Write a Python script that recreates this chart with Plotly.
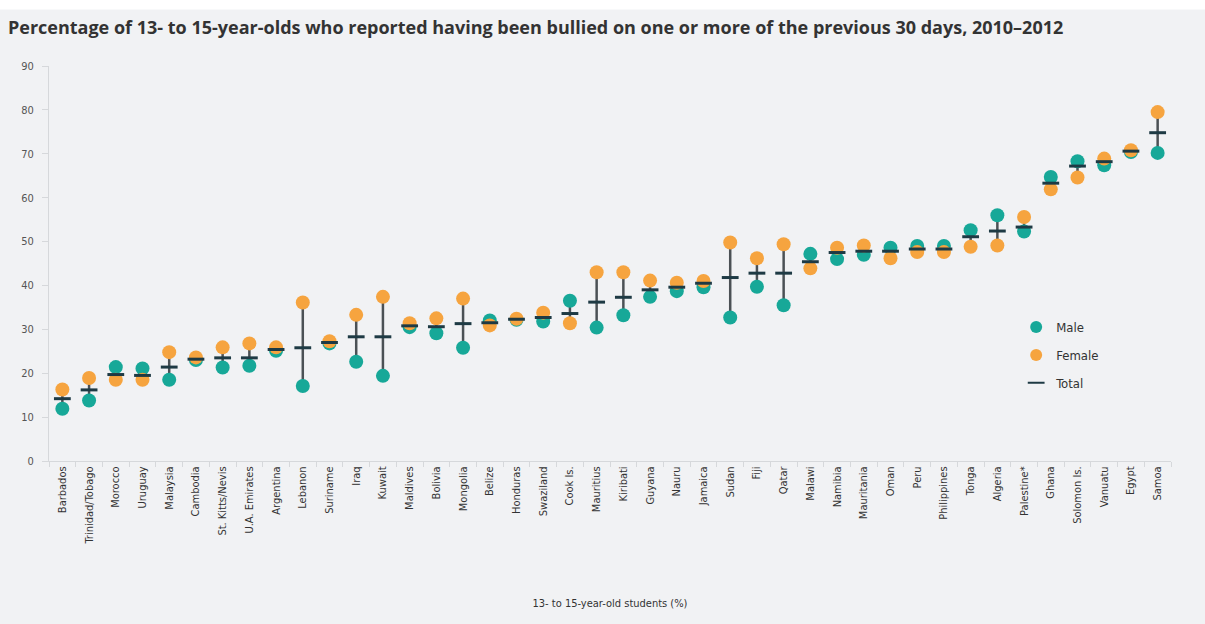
import plotly.graph_objects as go

countries = ["Barbados", "Trinidad/Tobago", "Morocco", "Uruguay", "Malaysia", "Cambodia",
             "St. Kitts/Nevis", "U.A. Emirates", "Argentina", "Lebanon", "Suriname", "Iraq",
             "Kuwait", "Maldives", "Bolivia", "Mongolia", "Belize", "Honduras", "Swaziland",
             "Cook Is.", "Mauritius", "Kiribati", "Guyana", "Nauru", "Jamaica", "Sudan", "Fiji",
             "Qatar", "Malawi", "Namibia", "Mauritania", "Oman", "Peru", "Philippines", "Tonga",
             "Algeria", "Palestine*", "Ghana", "Solomon Is.", "Vanuatu", "Egypt", "Samoa"]

male = [11.9, 13.8, 21.4, 21.1, 18.5, 23.0, 21.3, 21.7, 25.1, 17.1, 26.8, 22.6,
        19.4, 30.5, 29.1, 25.8, 32.0, 32.2, 31.8, 36.5, 30.4, 33.2, 37.4, 38.7, 39.6, 32.7, 39.7,
        35.5, 47.2, 46.0, 47.0, 48.6, 49.0, 49.0, 52.6, 56.0, 52.3, 64.7, 68.3, 67.4, 70.4, 70.2]

female = [16.3, 18.9, 18.5, 18.5, 24.8, 23.6, 25.9, 26.8, 25.9, 36.1, 27.3, 33.3,
          37.4, 31.4, 32.5, 37.0, 30.9, 32.4, 33.8, 31.4, 43.0, 43.0, 41.1, 40.6, 41.0, 49.8, 46.2,
          49.4, 43.9, 48.6, 49.1, 46.2, 47.6, 47.6, 48.8, 49.1, 55.6, 61.9, 64.6, 68.9, 70.8, 79.5]

total = [14.2, 16.2, 19.7, 19.5, 21.4, 23.2, 23.5, 23.5, 25.4, 25.8, 27.0, 28.3,
         28.3, 30.8, 30.6, 31.3, 31.5, 32.3, 32.7, 33.6, 36.2, 37.3, 39.0, 39.6, 40.5, 41.8, 42.8,
         42.8, 45.4, 47.5, 47.8, 47.8, 48.3, 48.3, 51.1, 52.4, 53.3, 63.3, 67.2, 68.2, 70.6, 74.8]

MALE_C = "#17a898"
FEMALE_C = "#f6a43f"
TOTAL_C = "#1e3a44"
LINE_C = "#4b5155"
BG = "#f1f2f4"
FONT = "DejaVu Sans Condensed, Liberation Sans Narrow, sans-serif"

# vertical connector lines from male to female values
lx, ly = [], []
for c, m, f in zip(countries, male, female):
    lx += [c, c, None]
    ly += [m, f, None]

fig = go.Figure()
fig.add_trace(go.Scatter(x=lx, y=ly, mode="lines", line=dict(color=LINE_C, width=2.5),
                         showlegend=False, hoverinfo="skip"))
fig.add_trace(go.Scatter(x=countries, y=male, mode="markers", name="Male", legendgroup="m",
                         marker=dict(color=MALE_C, size=14, line=dict(width=0))))
fig.add_trace(go.Scatter(x=countries, y=female, mode="markers", name="Female", legendgroup="f",
                         marker=dict(color=FEMALE_C, size=14, line=dict(width=0))))
fig.add_trace(go.Scatter(x=countries, y=total, mode="markers", name="Total", legendgroup="t",
                         marker=dict(symbol="line-ew", size=12, color=TOTAL_C,
                                     line=dict(color=TOTAL_C, width=3))))

fig.update_layout(
    width=1205, height=624,
    margin=dict(l=49, r=34, t=66, b=163),
    paper_bgcolor=BG, plot_bgcolor=BG,
    font=dict(family=FONT, color="#333333", size=11),
    title=dict(text="<b>Percentage of 13- to 15-year-olds who reported having been bullied on one or more of the previous 30 days, 2010–2012</b>",
               font=dict(family="Open Sans, sans-serif", size=18, color="#333333"),
               xref="container", yref="container", x=0.0066, xanchor="left",
               y=1 - 28 / 624, yanchor="middle"),
    showlegend=True,
    legend=dict(x=0.862, y=0.377, xanchor="left", yanchor="top", bgcolor="rgba(0,0,0,0)",
                font=dict(family=FONT, size=13, color="#333333"), itemsizing="constant",
                traceorder="grouped", tracegroupgap=8),
    xaxis=dict(type="category", categoryorder="array", categoryarray=countries,
               range=[-0.5, len(countries) - 0.5], tickangle=-90, showgrid=False,
               showline=True, linecolor="#d6d8db", linewidth=1,
               ticks="outside", tickson="boundaries", ticklen=5, tickcolor="#d6d8db",
               tickfont=dict(family=FONT, size=11, color="#333333"),
               title=dict(text="13- to 15-year-old students (%)", standoff=55,
                          font=dict(family=FONT, size=11, color="#333333"))),
    yaxis=dict(range=[0, 90], dtick=10, showgrid=False, zeroline=False,
               showline=True, linecolor="#d6d8db", linewidth=1,
               ticks="outside", ticklen=6, tickcolor="#d6d8db",
               ticklabelstandoff=6,
               tickfont=dict(family=FONT, size=11, color="#555555")),
    shapes=[dict(type="rect", xref="paper", yref="paper", x0=-0.05, x1=1.05,
                 y0=(461 - 9.5) / 395, y1=1.2, fillcolor="white", line=dict(width=0),
                 layer="below")],
)

fig.write_html("out.html", config={"displayModeBar": False},
               post_script="document.body.style.margin='0';")
